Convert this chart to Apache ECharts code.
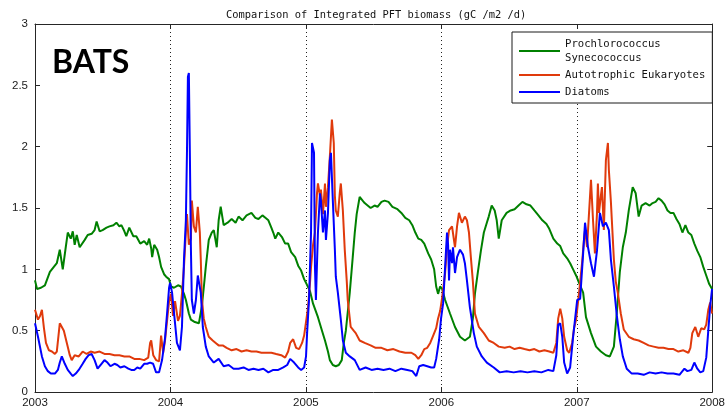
<!DOCTYPE html>
<html>
<head>
<meta charset="utf-8">
<script src="https://cdn.jsdelivr.net/npm/echarts@6/dist/echarts.min.js"></script>
<style>
  html, body { margin: 0; padding: 0; background: #fff; }
  #chart { width: 728px; height: 411px; }
</style>
</head>
<body>
<div id="chart"></div>
<script>
// Integrated PFT biomass at BATS, 2003-2008 (gC /m2 /d), as [decimal year, value]
const yearTicks = [2003, 2004, 2005, 2006, 2007, 2008];
const seriesNames = ['Prochlorococcus\nSynecococcus', 'Autotrophic Eukaryotes', 'Diatoms'];

const prochSyn = [
  [2003.000,0.91],[2003.015,0.84],[2003.044,0.85],[2003.073,0.87],[2003.110,0.98],[2003.139,1.02],
  [2003.161,1.05],[2003.183,1.16],[2003.205,1.00],[2003.227,1.18],[2003.242,1.30],[2003.264,1.25],
  [2003.279,1.31],[2003.293,1.20],[2003.308,1.28],[2003.330,1.18],[2003.367,1.24],[2003.389,1.28],
  [2003.418,1.29],[2003.440,1.32],[2003.455,1.39],[2003.477,1.31],[2003.499,1.32],[2003.528,1.34],
  [2003.550,1.35],[2003.579,1.36],[2003.601,1.38],[2003.623,1.35],[2003.638,1.36],[2003.660,1.31],
  [2003.674,1.27],[2003.696,1.34],[2003.726,1.27],[2003.748,1.27],[2003.777,1.21],[2003.806,1.23],
  [2003.828,1.20],[2003.843,1.25],[2003.858,1.17],[2003.865,1.10],[2003.880,1.20],[2003.902,1.16],
  [2003.916,1.10],[2003.931,1.02],[2003.953,0.96],[2003.968,0.94],[2003.990,0.92],[2004.004,0.86],
  [2004.026,0.85],[2004.056,0.87],[2004.078,0.86],[2004.100,0.80],[2004.114,0.75],[2004.136,0.64],
  [2004.151,0.59],[2004.180,0.57],[2004.210,0.56],[2004.232,0.70],[2004.246,0.85],[2004.261,1.02],
  [2004.283,1.24],[2004.305,1.30],[2004.320,1.32],[2004.342,1.18],[2004.356,1.40],[2004.371,1.51],
  [2004.393,1.36],[2004.422,1.38],[2004.452,1.41],[2004.481,1.38],[2004.503,1.43],[2004.532,1.40],
  [2004.562,1.44],[2004.598,1.46],[2004.627,1.42],[2004.650,1.41],[2004.679,1.44],[2004.701,1.42],
  [2004.723,1.40],[2004.745,1.34],[2004.759,1.30],[2004.774,1.25],[2004.796,1.30],[2004.825,1.26],
  [2004.847,1.21],[2004.869,1.21],[2004.891,1.14],[2004.921,1.10],[2004.943,1.03],[2004.965,0.99],
  [2004.987,0.92],[2005.001,0.89],[2005.031,0.82],[2005.053,0.72],[2005.089,0.61],[2005.119,0.50],
  [2005.141,0.42],[2005.163,0.33],[2005.177,0.26],[2005.199,0.22],[2005.221,0.21],[2005.243,0.22],
  [2005.265,0.26],[2005.280,0.40],[2005.295,0.50],[2005.309,0.65],[2005.324,0.81],[2005.346,1.10],
  [2005.361,1.30],[2005.375,1.45],[2005.397,1.59],[2005.419,1.56],[2005.434,1.54],[2005.456,1.52],
  [2005.478,1.50],[2005.507,1.52],[2005.529,1.51],[2005.558,1.55],[2005.581,1.56],[2005.610,1.55],
  [2005.639,1.51],[2005.676,1.49],[2005.705,1.46],[2005.734,1.42],[2005.763,1.40],[2005.786,1.36],
  [2005.808,1.30],[2005.830,1.25],[2005.852,1.24],[2005.874,1.21],[2005.903,1.13],[2005.925,1.08],
  [2005.947,1.00],[2005.962,0.86],[2005.976,0.80],[2005.991,0.86],[2006.006,0.84],[2006.028,0.75],
  [2006.064,0.64],[2006.101,0.53],[2006.138,0.45],[2006.174,0.42],[2006.211,0.45],[2006.233,0.60],
  [2006.248,0.80],[2006.270,0.98],[2006.292,1.15],[2006.314,1.30],[2006.336,1.38],[2006.350,1.43],
  [2006.372,1.52],[2006.394,1.48],[2006.409,1.40],[2006.424,1.25],[2006.446,1.40],[2006.482,1.46],
  [2006.512,1.48],[2006.541,1.49],[2006.570,1.52],[2006.599,1.55],[2006.629,1.53],[2006.658,1.52],
  [2006.687,1.48],[2006.717,1.44],[2006.746,1.40],[2006.776,1.37],[2006.797,1.33],[2006.827,1.25],
  [2006.856,1.21],[2006.878,1.19],[2006.900,1.13],[2006.929,1.09],[2006.951,1.05],[2006.973,1.00],
  [2006.995,0.95],[2007.017,0.89],[2007.047,0.81],[2007.068,0.61],[2007.105,0.48],[2007.142,0.37],
  [2007.178,0.33],[2007.215,0.30],[2007.244,0.29],[2007.274,0.37],[2007.296,0.65],[2007.318,0.98],
  [2007.340,1.18],[2007.362,1.30],[2007.384,1.48],[2007.413,1.67],[2007.435,1.62],[2007.457,1.43],
  [2007.479,1.52],[2007.508,1.54],[2007.538,1.52],[2007.560,1.54],[2007.582,1.55],[2007.604,1.58],
  [2007.626,1.56],[2007.648,1.53],[2007.670,1.48],[2007.692,1.46],[2007.714,1.46],[2007.736,1.41],
  [2007.758,1.37],[2007.780,1.30],[2007.802,1.36],[2007.824,1.30],[2007.846,1.28],[2007.868,1.21],
  [2007.890,1.15],[2007.912,1.10],[2007.934,1.02],[2007.956,0.95],[2007.978,0.88],[2007.999,0.84]
];

const autoEuk = [
  [2003.000,0.67],[2003.022,0.59],[2003.037,0.62],[2003.051,0.67],[2003.066,0.52],[2003.081,0.40],
  [2003.103,0.34],[2003.125,0.33],[2003.147,0.31],[2003.161,0.33],[2003.183,0.56],[2003.198,0.53],
  [2003.213,0.50],[2003.235,0.40],[2003.257,0.30],[2003.271,0.26],[2003.293,0.30],[2003.323,0.29],
  [2003.352,0.33],[2003.381,0.31],[2003.411,0.33],[2003.440,0.32],[2003.477,0.33],[2003.513,0.31],
  [2003.550,0.31],[2003.587,0.30],[2003.623,0.30],[2003.660,0.29],[2003.696,0.29],[2003.733,0.27],
  [2003.770,0.27],[2003.806,0.26],[2003.836,0.28],[2003.850,0.40],[2003.858,0.42],[2003.873,0.30],
  [2003.894,0.26],[2003.916,0.25],[2003.931,0.46],[2003.946,0.32],[2003.960,0.42],[2003.975,0.58],
  [2003.990,0.74],[2004.004,0.80],[2004.019,0.62],[2004.034,0.74],[2004.056,0.58],[2004.070,0.62],
  [2004.085,0.80],[2004.100,1.02],[2004.114,1.30],[2004.122,1.45],[2004.136,1.20],[2004.151,1.25],
  [2004.158,1.56],[2004.173,1.35],[2004.188,1.30],[2004.202,1.51],[2004.217,1.30],[2004.224,1.08],
  [2004.232,0.76],[2004.246,0.60],[2004.261,0.53],[2004.283,0.45],[2004.312,0.42],[2004.334,0.40],
  [2004.356,0.38],[2004.386,0.38],[2004.415,0.36],[2004.452,0.34],[2004.488,0.35],[2004.525,0.33],
  [2004.562,0.34],[2004.598,0.33],[2004.635,0.33],[2004.672,0.32],[2004.708,0.32],[2004.745,0.32],
  [2004.781,0.31],[2004.818,0.30],[2004.847,0.28],[2004.869,0.33],[2004.884,0.40],[2004.906,0.43],
  [2004.928,0.36],[2004.950,0.35],[2004.972,0.40],[2004.987,0.46],[2005.001,0.45],[2005.016,0.69],
  [2005.031,0.90],[2005.038,1.02],[2005.053,1.20],[2005.067,1.30],[2005.082,1.62],[2005.089,1.70],
  [2005.104,1.60],[2005.111,1.65],[2005.126,1.45],[2005.141,1.70],[2005.148,1.51],[2005.163,1.67],
  [2005.177,1.92],[2005.192,2.22],[2005.206,2.03],[2005.214,1.60],[2005.221,1.48],[2005.236,1.43],
  [2005.250,1.62],[2005.258,1.70],[2005.273,1.48],[2005.287,1.16],[2005.302,0.90],[2005.309,0.75],
  [2005.331,0.53],[2005.353,0.50],[2005.368,0.48],[2005.397,0.42],[2005.434,0.40],[2005.478,0.38],
  [2005.515,0.36],[2005.558,0.36],[2005.602,0.34],[2005.646,0.35],[2005.691,0.33],[2005.734,0.32],
  [2005.779,0.32],[2005.808,0.30],[2005.830,0.27],[2005.852,0.30],[2005.874,0.35],[2005.896,0.36],
  [2005.918,0.40],[2005.940,0.46],[2005.962,0.52],[2005.976,0.60],[2005.991,0.66],[2006.006,0.77],
  [2006.028,0.97],[2006.042,1.18],[2006.057,1.32],[2006.079,1.35],[2006.101,1.18],[2006.116,1.35],
  [2006.130,1.46],[2006.152,1.38],[2006.174,1.43],[2006.189,1.40],[2006.204,1.30],[2006.218,1.10],
  [2006.233,0.90],[2006.248,0.64],[2006.277,0.53],[2006.314,0.48],[2006.350,0.42],[2006.387,0.40],
  [2006.424,0.37],[2006.468,0.36],[2006.504,0.37],[2006.541,0.35],[2006.578,0.36],[2006.614,0.35],
  [2006.651,0.34],[2006.687,0.35],[2006.724,0.33],[2006.761,0.34],[2006.797,0.33],[2006.827,0.32],
  [2006.849,0.40],[2006.863,0.60],[2006.878,0.68],[2006.893,0.60],[2006.907,0.45],[2006.929,0.34],
  [2006.944,0.32],[2006.966,0.40],[2006.980,0.52],[2006.995,0.59],[2007.017,0.81],[2007.039,1.05],
  [2007.054,1.25],[2007.061,1.32],[2007.076,1.18],[2007.090,1.45],[2007.105,1.73],[2007.120,1.40],
  [2007.134,1.13],[2007.149,1.45],[2007.156,1.70],[2007.164,1.46],[2007.178,1.60],[2007.186,1.67],
  [2007.200,1.32],[2007.215,1.89],[2007.230,2.03],[2007.237,1.81],[2007.252,1.55],[2007.259,1.40],
  [2007.274,1.08],[2007.288,0.90],[2007.303,0.81],[2007.325,0.64],[2007.347,0.51],[2007.384,0.45],
  [2007.420,0.43],[2007.457,0.42],[2007.494,0.40],[2007.530,0.38],[2007.567,0.37],[2007.604,0.36],
  [2007.640,0.36],[2007.677,0.35],[2007.714,0.35],[2007.750,0.33],[2007.787,0.34],[2007.824,0.32],
  [2007.839,0.36],[2007.853,0.48],[2007.875,0.53],[2007.897,0.45],[2007.919,0.52],[2007.941,0.51],
  [2007.956,0.55],[2007.971,0.67],[2007.985,0.73],[2007.999,0.64]
];

const diatoms = [
  [2003.000,0.56],[2003.022,0.45],[2003.051,0.29],[2003.073,0.21],[2003.095,0.17],[2003.117,0.15],
  [2003.147,0.15],[2003.169,0.18],[2003.183,0.24],[2003.198,0.29],[2003.220,0.23],[2003.242,0.18],
  [2003.264,0.15],[2003.279,0.13],[2003.301,0.15],[2003.323,0.18],[2003.352,0.23],[2003.374,0.27],
  [2003.396,0.30],[2003.418,0.31],[2003.440,0.26],[2003.462,0.19],[2003.491,0.23],[2003.513,0.26],
  [2003.535,0.24],[2003.557,0.21],[2003.587,0.23],[2003.608,0.22],[2003.630,0.20],[2003.660,0.21],
  [2003.689,0.19],[2003.711,0.18],[2003.733,0.18],[2003.755,0.20],[2003.777,0.19],[2003.806,0.23],
  [2003.828,0.23],[2003.850,0.24],[2003.872,0.23],[2003.894,0.16],[2003.916,0.16],[2003.938,0.26],
  [2003.960,0.44],[2003.975,0.64],[2003.990,0.85],[2003.997,0.89],[2004.012,0.81],[2004.034,0.56],
  [2004.048,0.40],[2004.070,0.34],[2004.085,0.53],[2004.100,1.08],[2004.114,1.40],[2004.122,1.95],
  [2004.129,2.57],[2004.136,2.60],[2004.144,1.89],[2004.151,1.18],[2004.158,0.75],[2004.173,0.64],
  [2004.188,0.75],[2004.202,0.95],[2004.224,0.81],[2004.239,0.53],[2004.261,0.37],[2004.283,0.29],
  [2004.320,0.24],[2004.356,0.27],[2004.393,0.21],[2004.430,0.22],[2004.466,0.19],[2004.503,0.19],
  [2004.540,0.20],[2004.576,0.18],[2004.613,0.19],[2004.650,0.18],[2004.686,0.19],[2004.723,0.16],
  [2004.759,0.18],[2004.796,0.18],[2004.833,0.20],[2004.862,0.22],[2004.884,0.27],[2004.913,0.24],
  [2004.943,0.20],[2004.965,0.18],[2004.987,0.20],[2005.001,0.29],[2005.009,0.48],[2005.023,0.75],
  [2005.038,1.30],[2005.045,2.03],[2005.060,1.95],[2005.067,1.02],[2005.074,0.75],[2005.089,1.30],
  [2005.104,1.62],[2005.111,1.56],[2005.126,1.30],[2005.141,1.48],[2005.148,1.24],[2005.163,1.46],
  [2005.177,1.89],[2005.185,1.95],[2005.199,1.56],[2005.214,1.16],[2005.221,0.94],[2005.236,0.81],
  [2005.258,0.59],[2005.273,0.42],[2005.295,0.32],[2005.324,0.29],[2005.361,0.26],[2005.397,0.18],
  [2005.441,0.20],[2005.485,0.18],[2005.529,0.19],[2005.573,0.18],[2005.617,0.19],[2005.661,0.17],
  [2005.705,0.19],[2005.749,0.18],[2005.786,0.17],[2005.815,0.13],[2005.837,0.21],[2005.866,0.22],
  [2005.896,0.21],[2005.925,0.20],[2005.947,0.20],[2005.962,0.27],[2005.984,0.43],[2005.998,0.60],
  [2006.013,0.72],[2006.028,1.02],[2006.042,1.30],[2006.050,1.20],[2006.057,0.91],[2006.064,1.16],
  [2006.079,1.05],[2006.086,1.18],[2006.101,0.97],[2006.116,1.10],[2006.138,1.16],[2006.160,1.12],
  [2006.174,1.05],[2006.189,0.91],[2006.211,0.69],[2006.240,0.48],[2006.262,0.37],[2006.299,0.29],
  [2006.336,0.24],[2006.387,0.20],[2006.431,0.16],[2006.482,0.17],[2006.534,0.16],[2006.585,0.17],
  [2006.636,0.16],[2006.687,0.17],[2006.739,0.16],[2006.790,0.18],[2006.827,0.17],[2006.849,0.30],
  [2006.863,0.55],[2006.878,0.56],[2006.893,0.45],[2006.907,0.24],[2006.929,0.15],[2006.951,0.20],
  [2006.973,0.45],[2006.988,0.60],[2007.003,0.75],[2007.025,0.76],[2007.047,1.13],[2007.061,1.38],
  [2007.083,1.18],[2007.105,1.05],[2007.127,0.94],[2007.149,1.15],[2007.171,1.46],[2007.193,1.35],
  [2007.215,1.38],[2007.237,1.32],[2007.252,1.08],[2007.274,0.86],[2007.296,0.62],[2007.318,0.43],
  [2007.340,0.29],[2007.369,0.19],[2007.406,0.15],[2007.450,0.15],[2007.494,0.14],[2007.538,0.16],
  [2007.582,0.15],[2007.626,0.16],[2007.670,0.15],[2007.714,0.15],[2007.758,0.14],[2007.795,0.19],
  [2007.817,0.17],[2007.846,0.18],[2007.868,0.24],[2007.890,0.19],[2007.912,0.16],[2007.934,0.17],
  [2007.956,0.28],[2007.971,0.50],[2007.985,0.70],[2007.999,0.84]
];

const seriesData = [prochSyn, autoEuk, diatoms];
const seriesColors = ['#008000', '#e03a0c', '#0000ff'];

const chart = echarts.init(document.getElementById('chart'), null, { renderer: 'canvas' });

const tickFont = { fontFamily: 'Liberation Sans, Arial, sans-serif', fontSize: 11.5, color: '#1a1a1a' };
const boxLine = { show: true, onZero: false, lineStyle: { color: '#262626', width: 1 } };
const innerTicks = { show: true, inside: true, length: 5, lineStyle: { color: '#262626' } };

chart.setOption({
  animation: false,
  backgroundColor: '#ffffff',
  title: {
    text: 'Comparison of Integrated PFT biomass (gC /m2 /d)',
    left: 221,
    top: 5,
    textStyle: { fontFamily: 'DejaVu Sans Mono, monospace', fontSize: 10.4, fontWeight: 'normal', color: '#111' }
  },
  grid: { left: 35, right: 11, top: 24, bottom: 19, containLabel: false },
  legend: {
    data: seriesNames,
    orient: 'vertical',
    left: 512,
    top: 32,
    padding: [5, 7, 4, 7],
    itemGap: 3,
    itemWidth: 41,
    itemHeight: 2,
    icon: 'rect',
    backgroundColor: '#ffffff',
    borderColor: '#1a1a1a',
    borderWidth: 1,
    borderRadius: 0,
    textStyle: { fontFamily: 'DejaVu Sans Mono, monospace', fontSize: 10.6, color: '#111', lineHeight: 14 }
  },
  xAxis: [
    {
      type: 'value', min: yearTicks[0], max: yearTicks[yearTicks.length - 1], interval: 1,
      axisLine: boxLine,
      axisTick: innerTicks,
      axisLabel: Object.assign({ margin: 5, formatter: v => String(Math.round(v)) }, tickFont),
      splitLine: { show: true, lineStyle: { color: '#222', type: [1, 3], width: 1 } }
    },
    {
      type: 'value', position: 'top', min: yearTicks[0], max: yearTicks[yearTicks.length - 1], interval: 1,
      axisLine: boxLine,
      axisTick: innerTicks,
      axisLabel: { show: false },
      splitLine: { show: false }
    }
  ],
  yAxis: [
    {
      type: 'value', min: 0, max: 3, interval: 0.5,
      axisLine: boxLine,
      axisTick: innerTicks,
      axisLabel: Object.assign({ margin: 7 }, tickFont),
      splitLine: { show: false }
    },
    {
      type: 'value', position: 'right', min: 0, max: 3, interval: 0.5,
      axisLine: boxLine,
      axisTick: innerTicks,
      axisLabel: { show: false },
      splitLine: { show: false }
    }
  ],
  graphic: [
    {
      type: 'text', left: 52, top: 47,
      style: { text: 'BATS', font: 'bold 32px Lato, "Open Sans", sans-serif', fill: '#000' }
    }
  ],
  series: seriesNames.map((name, i) => ({
    name,
    type: 'line',
    data: seriesData[i],
    showSymbol: false,
    symbol: 'none',
    clip: true,
    lineStyle: { color: seriesColors[i], width: 2 },
    itemStyle: { color: seriesColors[i] },
    z: 2 + i
  }))
});
</script>
</body>
</html>
